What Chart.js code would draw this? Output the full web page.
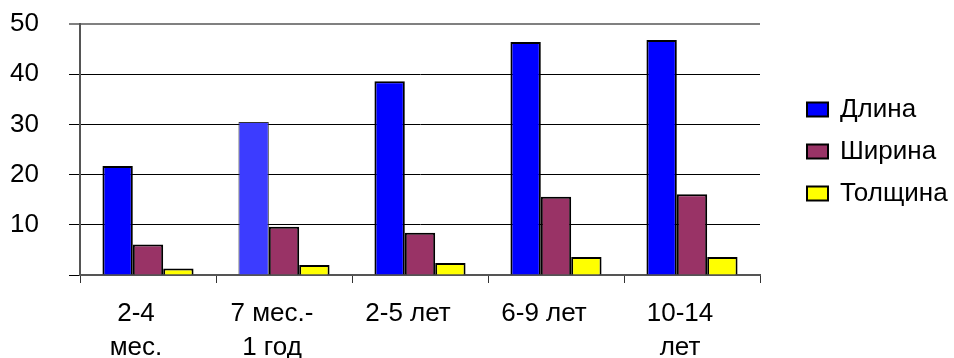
<!DOCTYPE html>
<html>
<head>
<meta charset="utf-8">
<script src="https://cdn.jsdelivr.net/npm/chart.js@4/dist/chart.umd.min.js"></script>
<style>
  html, body { margin: 0; padding: 0; background: #fff; }
  #wrap { width: 954px; height: 358px; position: relative; }
</style>
</head>
<body>
<div id="wrap"><canvas id="c" width="954" height="358"></canvas></div>
<script>
// Age groups (x axis), wrapped onto two lines where needed
const categories = [['2-4', 'мес.'], ['7 мес.-', '1 год'], '2-5 лет', '6-9 лет', ['10-14', 'лет']];

// Series values per age group
const lengthValues = [21.7, 30.5, 38.6, 46.4, 46.8];
const widthValues = [6.1, 9.6, 8.4, 15.6, 16.1];
const thicknessValues = [1.3, 2.0, 2.4, 3.6, 3.6];

const seriesNames = ['Длина', 'Ширина', 'Толщина'];
const yTicks = [0, 10, 20, 30, 40, 50];

const FONT = "'Liberation Sans', Arial, sans-serif";
const FONT_SIZE = 26;

// Legend drawn to the right of the plot area
const sideLegend = {
  id: 'sideLegend',
  afterDraw(chart) {
    const ctx = chart.ctx;
    const area = chart.chartArea;
    const x0 = area.right + 47;
    const rowGap = 42;
    const midY = (area.top + area.bottom) / 2 + 2;
    const items = chart.data.datasets;
    ctx.save();
    ctx.font = FONT_SIZE + 'px ' + FONT;
    ctx.textBaseline = 'middle';
    ctx.textAlign = 'left';
    items.forEach((ds, i) => {
      const cy = midY + (i - (items.length - 1) / 2) * rowGap;
      ctx.fillStyle = ds.legendColor;
      ctx.fillRect(x0, cy - 7, 21, 14);
      ctx.lineWidth = 2;
      ctx.strokeStyle = '#000';
      ctx.strokeRect(x0, cy - 7, 21, 14);
      ctx.fillStyle = '#000';
      ctx.fillText(ds.label, x0 + 33, cy);
    });
    ctx.restore();
  }
};

new Chart(document.getElementById('c'), {
  type: 'bar',
  data: {
    labels: categories,
    datasets: [
      {
        label: seriesNames[0],
        data: lengthValues,
        legendColor: '#0000ff',
        backgroundColor: ['#0000ff', '#3c3cff', '#0000ff', '#0000ff', '#0000ff'],
        borderColor: ['#000', '#333', '#000', '#000', '#000'],
        borderWidth: [2, 1, 2, 2, 2]
      },
      {
        label: seriesNames[1],
        data: widthValues,
        legendColor: '#993366',
        backgroundColor: '#993366',
        borderColor: '#000',
        borderWidth: 2
      },
      {
        label: seriesNames[2],
        data: thicknessValues,
        legendColor: '#ffff00',
        backgroundColor: '#ffff00',
        borderColor: '#000',
        borderWidth: 2
      }
    ]
  },
  options: {
    responsive: false,
    animation: false,
    devicePixelRatio: 1,
    layout: { padding: { top: 24, right: 194, bottom: 0, left: 10 } },
    datasets: {
      bar: { categoryPercentage: 0.67, barPercentage: 1.0 }
    },
    plugins: {
      legend: { display: false },
      tooltip: { enabled: false }
    },
    scales: {
      x: {
        grid: {
          offset: true,
          drawOnChartArea: true,
          color: (c) => (c.index === categories.length ? '#808080' : 'rgba(0,0,0,0)'),
          lineWidth: (c) => (c.index === categories.length ? 2 : 1),
          tickColor: '#333',
          tickLength: 8,
          tickWidth: 1
        },
        border: { display: true, color: '#555', width: 2 },
        ticks: {
          color: '#000',
          font: { family: FONT, size: FONT_SIZE, lineHeight: 1.3 },
          padding: 14,
          labelOffset: -12,
          maxRotation: 0,
          autoSkip: false
        },
        afterFit(scale) { scale.height = 83; }
      },
      y: {
        min: 0,
        max: 50,
        afterBuildTicks(scale) { scale.ticks = yTicks.map(v => ({ value: v })); },
        grid: {
          color: (c) => (c.tick && c.tick.value === 50 ? '#808080' : '#000'),
          lineWidth: (c) => (c.tick && c.tick.value === 50 ? 2 : 1),
          tickColor: (c) => (c.tick && c.tick.value === 50 ? '#808080' : '#000'),
          tickLength: 11
        },
        border: { display: true, color: '#555', width: 2 },
        ticks: {
          color: '#000',
          font: { family: FONT, size: FONT_SIZE },
          padding: 0,
          crossAlign: 'far',
          callback: (v) => (v === 0 ? '' : String(v))
        },
        afterFit(scale) { scale.width = 70; }
      }
    }
  },
  plugins: [sideLegend]
});
</script>
</body>
</html>
